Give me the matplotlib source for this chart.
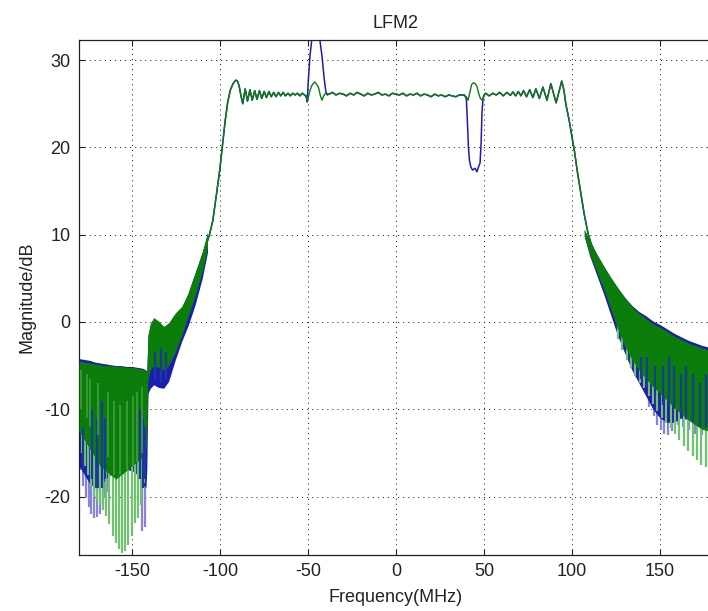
import matplotlib
matplotlib.use("Agg")
import matplotlib.pyplot as plt

plt.rcParams['font.family'] = ['Liberation Sans', 'DejaVu Sans']
plt.rcParams['axes.unicode_minus'] = False

# ---------------- data ----------------
title_text = "LFM2"
x_label = "Frequency(MHz)"
y_label = "Magnitude/dB"
x_ticks = [-150, -100, -50, 0, 50, 100, 150]
y_ticks = [-20, -10, 0, 10, 20, 30]

# passband / clean transition (green)
green_f = [-118, -115, -112, -110, -108, -106, -104, -102, -100, -98.5, -97, -95.5, -94, -92.5, -91, -90, -89, -88, -87,
           -85.6, -84.3, -82.9, -81.6, -80.2, -78.9, -77.5, -76.2, -74.8, -73.5, -72.1, -70.8, -69.4, -68.1, -66.7,
           -65.4, -64.0, -62.7, -61.3, -60.0, -58.6, -57.3, -55.9, -54.6, -53.2, -51.9, -50.8,
           -50.2, -49.2, -48.0, -47.0, -46.0, -45.0, -44.0, -43.0, -42.0, -41.0, -40.0,
           -38, -36, -34, -32, -30, -28, -26, -24, -22, -20, -18, -16, -14, -12, -10, -8, -6, -4, -2,
           0, 2, 4, 6, 8, 10, 12, 14, 16, 18, 20, 22, 24, 26, 28, 30, 32, 34, 36, 38,
           40.0, 41.0, 42.0, 43.0, 44.0, 45.0, 46.0, 47.0, 48.0, 49.0, 50.0, 51.0,
           53, 55, 57, 59, 61, 63, 65, 66.5, 68, 69.5, 71, 72.5, 74.2, 76, 77.8, 79.5, 81.5, 83.5, 85.8, 88.0,
           91.0, 94.2, 95.5, 96.5, 97.5, 98.5, 99.5, 100.6, 101.4, 103, 105, 107, 109.3, 111, 113, 115, 118, 120]
green_v = [2.8, 4.6, 6.3, 7.5, 8.7, 9.9, 11.6, 14.5, 17.5, 20.3, 23.0, 25.2, 26.6, 27.3, 27.7, 27.6, 27.0, 25.9, 25.0,
           26.7, 25.3, 26.6, 25.4, 26.5, 25.5, 26.5, 25.6, 26.4, 25.7, 26.4, 25.8, 26.3, 25.8, 26.3,
           25.9, 26.3, 25.9, 26.2, 25.9, 26.2, 26.0, 26.2, 25.9, 26.2, 26.0, 25.9,
           25.3, 26.2, 27.0, 27.3, 27.5, 27.2, 26.9, 26.0, 25.4, 25.9, 26.2,
           26.1, 26.3, 26.0, 26.2, 26.1, 25.9, 26.2, 26.0, 26.3, 26.1, 25.9, 26.2, 26.0, 26.1, 26.3, 26.0, 26.1, 25.9, 26.2,
           26.1, 26.0, 26.2, 25.9, 26.1, 26.0, 26.2, 25.9, 26.1, 26.0, 25.8, 26.1, 25.9, 26.0, 25.8, 26.0, 25.9, 25.8, 26.0, 26.0,
           25.8, 25.4, 26.3, 27.2, 27.4, 27.3, 27.0, 26.2, 25.6, 25.4, 26.0, 26.2,
           25.9, 26.2, 26.0, 26.3, 25.9, 26.3, 25.95, 26.35, 25.9, 26.4, 25.9, 26.5, 25.8, 26.6, 25.7, 26.7, 25.6, 26.9, 25.4, 27.3,
           25.1, 27.6, 26.5, 25.0, 24.0, 23.0, 21.8, 20.5, 19.6, 17.3, 14.8, 12.3, 10.0, 8.9, 8.0, 7.1, 6.0, 5.2]

# blue: identical to green except the spur at -45 MHz and the notch at +45 MHz
blue_spur_f = [-51.0, -50.4, -49.8, -48.8, -47.8, -43.2, -42.0, -40.8, -39.8, -39.0]
blue_spur_v = [25.8, 25.2, 27.5, 30.5, 32.3, 32.3, 30.5, 28.0, 26.4, 26.0]
blue_notch_f = [39.0, 40.0, 40.6, 41.2, 41.8, 42.5, 43.5, 45.0, 46.0, 47.0, 47.8, 48.4, 48.9, 49.5, 50.5]
blue_notch_v = [26.0, 25.6, 23.0, 20.0, 18.5, 17.8, 17.4, 17.6, 17.2, 17.8, 18.2, 20.5, 24.0, 25.6, 26.1]

# noisy stop-band envelopes, left side
left_f = [-180, -177, -174, -171, -168, -165, -162, -159, -156, -153, -150, -147, -144, -142, -141.5, -140.8,
          -139.5, -137.6, -134.8, -131.9, -129.1, -125.4, -121.6, -117.8, -114, -110, -107]
green_left_up = [-4.5, -4.6, -4.7, -4.8, -4.9, -5.0, -5.0, -5.1, -5.1, -5.2, -5.2, -5.3, -5.4, -5.6, -5.8, -1.5,
                 -0.2, 0.5, 0.1, -0.5, -0.1, 1.0, 1.8, 3.4, 5.6, 8.0, 10.3]
green_left_lo = [-12.5, -13.5, -14.5, -15.5, -16.5, -17.0, -17.5, -18.0, -17.5, -17.0, -16.5, -16.0, -15.5, -14.5, -13.0, -6.5,
                 -5.5, -5.0, -5.2, -5.5, -5.0, -3.5, -1.5, 0.8, 3.0, 5.8, 8.6]
blue_left_up = [-4.2, -4.3, -4.4, -4.6, -4.7, -4.8, -4.9, -5.0, -5.0, -5.1, -5.1, -5.2, -5.3, -5.5, -5.7, -1.5,
                -0.3, 0.4, 0.0, -0.6, -0.2, 0.9, 1.7, 3.3, 5.5, 7.9, 10.2]
blue_left_lo = [-16.5, -17.5, -18.5, -19.0, -19.0, -18.0, -17.5, -17.5, -17.5, -17.0, -17.0, -17.5, -18.5, -19.0, -17.0, -8.2,
                -7.6, -7.2, -7.5, -7.6, -6.8, -4.4, -2.2, -0.3, 2.0, 5.0, 8.0]

# noisy stop-band envelopes, right side
right_f = [107, 110, 114, 118, 122, 126, 130, 134, 138, 142, 146, 150, 154, 158, 162, 166, 170, 174, 178, 180]
green_right_up = [10.6, 9.3, 7.8, 6.4, 5.1, 3.9, 2.8, 1.8, 1.0, 0.4, -0.2, -0.6, -1.1, -1.6, -2.0, -2.4, -2.7, -3.0, -3.2, -3.3]
green_right_lo = [9.8, 7.8, 5.8, 3.8, 1.5, -0.8, -2.8, -4.3, -5.5, -6.5, -7.4, -8.2, -9.0, -9.8, -10.5, -11.2, -11.8, -12.3, -12.5, -12.5]
blue_right_up = [10.6, 9.3, 7.8, 6.4, 5.1, 3.9, 2.8, 1.9, 1.2, 0.7, 0.1, -0.3, -0.8, -1.3, -1.7, -2.1, -2.4, -2.7, -2.9, -3.0]
blue_right_lo = [9.8, 7.6, 5.4, 3.2, 0.8, -1.6, -3.6, -5.5, -7.0, -8.5, -10.0, -11.0, -11.5, -11.5, -11.0, -11.2, -11.6, -11.8, -12.0, -12.0]

# deep spikes below the dense body
gl_spk_f = [-178.5, -176.8, -175, -173.3, -171.5, -169.8, -168, -166.2, -164.5, -162.7, -160.9, -159.1, -157.3,
            -155.5, -153.7, -151.9, -150.1, -148.3, -146.5, -144.7, -142.9]
gl_spk_lo = [-15.0, -16.5, -17.5, -18.8, -20.0, -20.5, -21.0, -21.5, -22.2, -23.2, -24.5, -25.3, -26.0,
             -26.5, -26.2, -25.5, -24.5, -23.0, -22.5, -21.0, -18.5]
bl_spk_f = [-179.3, -177.8, -176.2, -174.6, -173.0, -171.4, -169.8, -168.2, -166.6, -165.0, -163.4, -144.2, -142.6]
bl_spk_lo = [-17.0, -18.8, -20.2, -21.2, -22.0, -22.5, -22.4, -22.0, -21.0, -20.2, -19.5, -24.0, -23.5]
gr_spk_f = [126, 128.5, 131, 133.5, 136, 138.5, 141, 143.5, 146, 148.5, 151, 153.5, 156, 158.5, 161, 163.5,
            166, 168.5, 171, 173.5, 176, 178.5]
gr_spk_hi = [2.5, 2.0, 1.5, 1.0, 0.5, 0.0, -0.3, -0.6, -1.0, -1.2, -1.5, -1.8, -2.1, -2.3, -2.6, -2.8,
             -3.0, -3.2, -3.4, -3.5, -3.6, -3.7]
gr_spk_lo = [-2.0, -3.2, -4.4, -5.3, -6.2, -7.0, -7.6, -8.5, -9.4, -10.2, -11.0, -11.6, -12.2, -12.8, -13.5, -14.2,
             -14.8, -15.4, -15.8, -16.4, -16.6, -16.3]
br_spk_f = [144, 146.5, 148.5, 150.5, 152.5, 154.5, 157, 160, 163, 166.5, 170, 174]
br_spk_lo = [-9.8, -10.8, -11.8, -12.4, -12.8, -13.0, -12.5, -11.8, -12.0, -12.4, -12.8, -13.0]

# dark blue streaks showing through the green body
bl_in_f = [-177.5, -172.5, -170.0, -167.0, -165.5, -145.5, -143.5, -142.3, -137.0, -133.5, -130.5]
bl_in_hi = [-12.0, -10.0, -11.0, -9.0, -11.0, -10.0, -11.0, -12.0, -3.5, -3.0, -3.5]
bl_in_lo = [-17.0, -18.0, -19.0, -19.0, -18.0, -18.0, -19.0, -18.0, -6.5, -7.0, -6.5]
br_in_f = [139, 142.5, 147, 151.5, 155, 158, 162, 165, 169, 172.5, 176]
br_in_hi = [-4.0, -4.0, -5.0, -5.0, -4.0, -5.0, -6.0, -5.0, -6.0, -7.0, -6.0]
br_in_lo = [-6.5, -7.5, -8.5, -9.5, -9.5, -10.0, -10.5, -11.0, -11.5, -12.0, -12.0]
# light green streaks inside the green body
gl_in_f = [-179.0, -175.5, -173.8, -169.0, -163.5, -160.0, -156.5, -153.0, -149.5, -147.0, -144.2]
gl_in_hi = [-5.5, -6.0, -6.5, -7.0, -8.0, -9.0, -9.5, -9.0, -8.5, -8.0, -7.5]
gl_in_lo = [-10.0, -11.0, -12.0, -13.0, -15.5, -17.5, -17.5, -17.0, -16.5, -16.0, -15.0]

# ---------------- styling ----------------
BLUE = "#1c1cb0"
DBLUE = "#1a3a9a"
LBLUE = "#8585dd"
GREEN = "#0b7d0b"
LGREEN = "#70c270"
TXT = "#222222"

fig = plt.figure(figsize=(7.08, 6.11), dpi=100)
ax = fig.add_axes([79 / 708, 56 / 611, 633.8 / 708, 515 / 611])

# blue series (drawn first, green on top as in the reference)
blue_f = [f for f in green_f if f < -51.0] + blue_spur_f + \
         [f for f in green_f if -39.0 < f < 39.0] + blue_notch_f + [f for f in green_f if f > 50.5]
blue_v = [v for f, v in zip(green_f, green_v) if f < -51.0] + blue_spur_v + \
         [v for f, v in zip(green_f, green_v) if -39.0 < f < 39.0] + blue_notch_v + \
         [v for f, v in zip(green_f, green_v) if f > 50.5]
ax.vlines(bl_spk_f, -10, bl_spk_lo, colors=LBLUE, lw=1.6, zorder=2)
ax.vlines(br_spk_f, -6, br_spk_lo, colors=LBLUE, lw=1.6, zorder=2)
ax.fill_between(left_f, blue_left_lo, blue_left_up, color=BLUE, lw=0, zorder=2.1)
ax.fill_between(right_f, blue_right_lo, blue_right_up, color=BLUE, lw=0, zorder=2.1)
ax.plot(blue_f, blue_v, color=BLUE, lw=1.1, zorder=2.2)

# green series
ax.vlines(gl_spk_f, -9, gl_spk_lo, colors=LGREEN, lw=1.6, zorder=3)
ax.vlines(gr_spk_f, gr_spk_hi, gr_spk_lo, colors=LGREEN, lw=1.6, zorder=3)
ax.fill_between(left_f, green_left_lo, green_left_up, color=GREEN, lw=0, zorder=3.1)
ax.fill_between(right_f, green_right_lo, green_right_up, color=GREEN, lw=0, zorder=3.1)
ax.vlines(bl_in_f, bl_in_hi, bl_in_lo, colors=DBLUE, lw=1.6, zorder=3.15)
ax.vlines(br_in_f, br_in_hi, br_in_lo, colors=DBLUE, lw=1.6, zorder=3.15)
ax.vlines(gl_in_f, gl_in_hi, gl_in_lo, colors="#3f9f3f", lw=1.2, zorder=3.15)
ax.plot(green_f, green_v, color=GREEN, lw=1.0, zorder=3.2)

ax.set_xlim(-180, 180)
ax.set_ylim(-26.7, 32.3)
ax.set_xticks(x_ticks)
ax.set_yticks(y_ticks)
ax.grid(True, color="#333333", lw=0.7, linestyle=(0, (1.2, 4.0)))
ax.tick_params(direction="in", length=4, width=0.8, top=True, right=True,
               labelsize=13, colors=TXT, pad=6)
for s in ax.spines.values():
    s.set_color("#222222")
    s.set_linewidth(0.9)

ax.set_title(title_text, fontsize=13, color=TXT, pad=9)
ax.set_xlabel(x_label, fontsize=13, color=TXT)
ax.xaxis.set_label_coords(0.5, -(597 - 555) / 515)
ax.xaxis.label.set_va("center")
ax.set_ylabel(y_label, fontsize=13, color=TXT)
ax.yaxis.set_label_coords((27 - 79) / 633.8, 0.5)
ax.yaxis.label.set_va("center")

fig.savefig("out.png", dpi=100)
